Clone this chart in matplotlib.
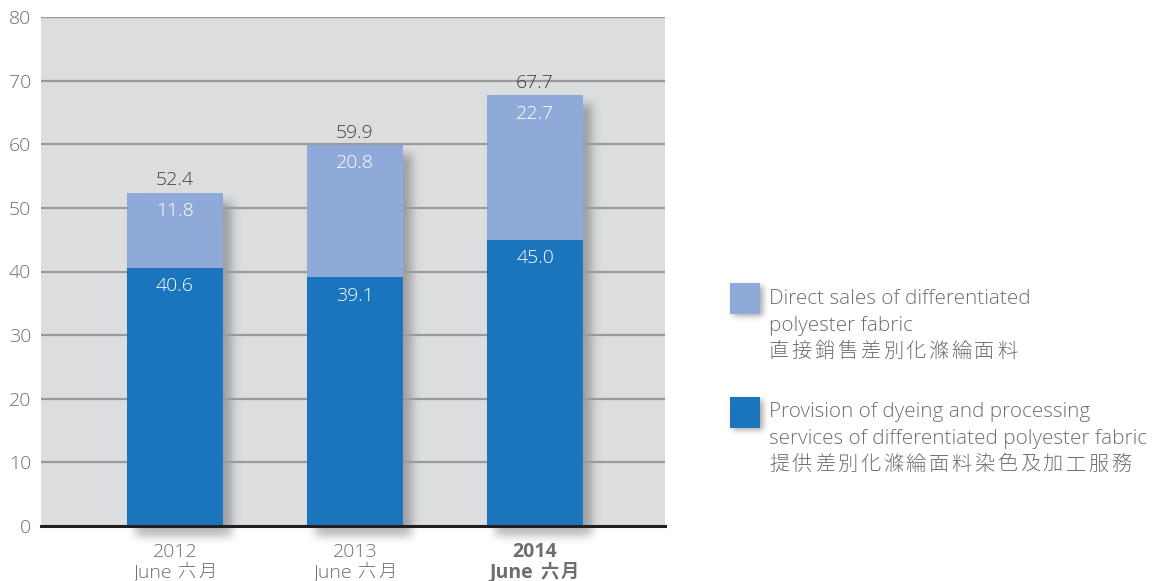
import math
import numpy as np
import matplotlib
matplotlib.use("Agg")
import matplotlib.pyplot as plt
from matplotlib.patches import Rectangle

years = ["2012", "2013", "2014"]
month_en = ["June", "June", "June"]
month_zh = ["六月", "六月", "六月"]
processing = [40.6, 39.1, 45.0]
direct = [11.8, 20.8, 22.7]
totals = [52.4, 59.9, 67.7]
yticks = [0, 10, 20, 30, 40, 50, 60, 70, 80]
legend_en = [
    ["Direct sales of differentiated", "polyester fabric"],
    ["Provision of dyeing and processing", "services of differentiated polyester fabric"],
]
legend_zh = ["直接銷售差別化滌綸面料", "提供差別化滌綸面料染色及加工服務"]

LAT = ["Open Sans", "DejaVu Sans"]
CJK = ["Noto Sans CJK JP", "Noto Sans CJK TC", "DejaVu Sans"]
plt.rcParams["font.family"] = LAT

C_DARK = "#1b75bc"
C_LIGHT = "#8faad9"
C_BG = "#dcdddf"
C_TXT = "#6d6e70"

W, H = 1156, 581
fig = plt.figure(figsize=(W / 100, H / 100), dpi=100)
AX_L, AX_R, AX_T, AX_B = 41, 665, 17, 526
ax = fig.add_axes([AX_L / W, (H - AX_B) / H, (AX_R - AX_L) / W, (AX_B - AX_T) / H])
ax.set_facecolor(C_BG)
XLIM = (-0.744, 2.722)
YLIM = (0, 80)
ax.set_xlim(*XLIM)
ax.set_ylim(*YLIM)
pxx = (AX_R - AX_L) / (XLIM[1] - XLIM[0])
pxy = (AX_B - AX_T) / (YLIM[1] - YLIM[0])

erf = np.vectorize(math.erf)


def soft_box(n, a, b, sigma):
    t = np.arange(n) + 0.5
    return 0.5 * (erf((t - a) / (sigma * math.sqrt(2))) - erf((t - b) / (sigma * math.sqrt(2))))


def ftext(px, py, s, **kw):
    return fig.text(px / W, 1 - py / H, s, **kw)


xs = list(range(len(years)))
w = 0.533

# blurred drop shadows for bars
for x, t in zip(xs, totals):
    bw = w * pxx
    bh = t * pxy
    pad = 25
    dx, dy, sig, amax = 8, 10, 4.5, 0.28
    nx = int(bw + 2 * pad)
    ny = int(bh + 2 * pad)
    px = soft_box(nx, pad + dx, pad + dx + bw, sig)
    py = soft_box(ny, pad + dy, pad + dy + bh, sig)
    img = np.zeros((ny, nx, 4))
    img[..., 3] = amax * np.outer(py, px)
    left = x - w / 2 - pad / pxx
    right = left + nx / pxx
    top = t + pad / pxy
    bottom = top - ny / pxy
    ax.imshow(img, extent=(left, right, bottom, top), aspect="auto", zorder=1,
              clip_on=False, interpolation="bilinear", origin="upper")
ax.set_xlim(*XLIM)
ax.set_ylim(*YLIM)

for y in yticks[1:]:
    ax.axhline(y, color="#999a9c", lw=1.6, zorder=2)

ax.bar(xs, processing, w, color=C_DARK, zorder=3)
ax.bar(xs, direct, w, bottom=processing, color=C_LIGHT, zorder=3)

for x, p, d, t in zip(xs, processing, direct, totals):
    ax.text(x, p - 2.9, f"{p:.1f}", ha="center", va="center", color="white", fontsize=14, fontweight="light", zorder=4)
    ax.text(x, t - 2.9, f"{d:.1f}", ha="center", va="center", color="white", fontsize=14, fontweight="light", zorder=4)
    ax.text(x, t + 0.5, f"{t:.1f}", ha="center", va="bottom", color="#404041", fontsize=14, fontweight="light", zorder=4)

ax.axhline(0, color="#231f20", lw=2.2, zorder=5, clip_on=False)

for s in ax.spines.values():
    s.set_visible(False)
ax.set_yticks(yticks)
ax.set_yticklabels([str(v) for v in yticks], color=C_TXT, fontsize=14, fontweight="light")
ax.tick_params(axis="y", length=0, pad=7)
ax.set_xticks([])

# x category labels
for i, (x, yr, me, mz) in enumerate(zip(xs, years, month_en, month_zh)):
    last = i == len(xs) - 1
    cx = AX_L + (x - XLIM[0]) * pxx
    lw_ = "bold" if last else "light"
    cw = 700 if last else 300
    ftext(cx, 557, yr, ha="center", va="baseline", color=C_TXT, fontsize=14, fontweight=lw_)
    ftext(cx - (2 if last else 3), 577, me, ha="right", va="baseline", color=C_TXT, fontsize=14, fontweight=lw_)
    offs = [15, 35] if last else [11, 33]
    for ch, o in zip(mz, offs):
        ftext(cx + o, 577, ch, ha="center", va="baseline", color=C_TXT, fontsize=13.2,
              fontweight=cw, family=CJK)

# legend: overlay axes in pixel coords for square shadows
lax = fig.add_axes([700 / W, 0, (W - 700) / W, 1], zorder=-1)
lax.set_xlim(700, W)
lax.set_ylim(H, 0)
lax.axis("off")
for sq_y, col in [(283, C_LIGHT), (397, C_DARK)]:
    pad = 15
    n = 30 + 2 * pad
    p = soft_box(n, pad + 3, pad + 3 + 30, 3.0)
    img = np.zeros((n, n, 4))
    img[..., 3] = 0.35 * np.outer(p, p)
    lax.imshow(img, extent=(730 - pad, 730 - pad + n, sq_y - pad + n, sq_y - pad), aspect="auto",
               zorder=1, interpolation="bilinear")
    lax.add_patch(Rectangle((730, sq_y), 30, 31, facecolor=col, edgecolor="none", zorder=2))
lax.set_xlim(700, W)
lax.set_ylim(H, 0)

PITCH = 22.8
for en_lines, zh, baselines in [(legend_en[0], legend_zh[0], [304, 331, 357]),
                                (legend_en[1], legend_zh[1], [417, 444, 470])]:
    for txt, b in zip(en_lines, baselines[:2]):
        ftext(769, b, txt, ha="left", va="baseline", color=C_TXT, fontsize=14.9, fontweight="light")
    for k, ch in enumerate(zh):
        ftext(769 + k * PITCH, baselines[2], ch, ha="left", va="baseline", color=C_TXT,
              fontsize=14.5, fontweight=300, family=CJK)

fig.savefig("out.png", dpi=100)
